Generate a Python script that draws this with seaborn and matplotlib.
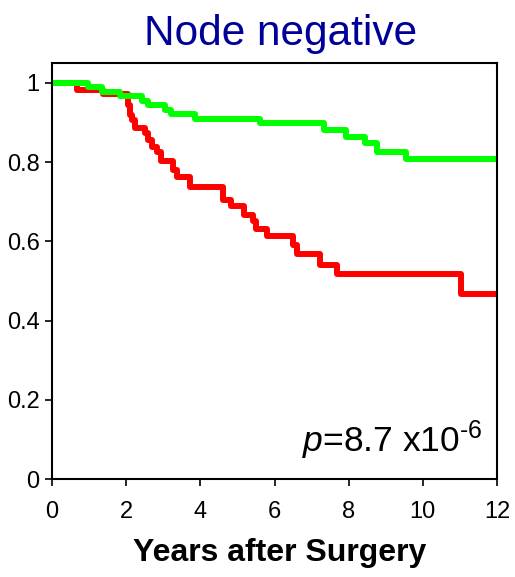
import matplotlib
matplotlib.use("Agg")
import matplotlib.pyplot as plt
import seaborn as sns
import pandas as pd

# Kaplan-Meier step data
green_times = [0, 0.97, 1.34, 1.83, 2.42, 2.59, 3.05, 3.22, 3.85, 5.6, 7.33, 7.94, 8.44, 8.77, 9.54]
green_surv = [1.0, 0.989, 0.976, 0.967, 0.955, 0.944, 0.932, 0.921, 0.908, 0.898, 0.881, 0.864, 0.848, 0.825, 0.807]

red_times = [0, 0.68, 1.38, 2.06, 2.10, 2.15, 2.24, 2.50, 2.60, 2.70, 2.84, 2.94, 3.27, 3.38, 3.72,
             4.62, 4.82, 5.17, 5.43, 5.50, 5.79, 6.50, 6.60, 7.22, 7.69, 11.02]
red_surv = [1.0, 0.982, 0.971, 0.945, 0.920, 0.907, 0.886, 0.873, 0.856, 0.839, 0.825, 0.803, 0.780, 0.763, 0.738,
            0.705, 0.688, 0.667, 0.650, 0.631, 0.614, 0.591, 0.568, 0.540, 0.518, 0.466]

max_followup = 12
x_ticks = [0, 2, 4, 6, 8, 10, 12]
y_ticks = [0, 0.2, 0.4, 0.6, 0.8, 1]
y_tick_labels = ["0", "0.2", "0.4", "0.6", "0.8", "1"]

title = "Node negative"
x_label = "Years after Surgery"
p_text = r"$p$=8.7 x10$^{\text{-6}}$"

sns.set_style("white")
plt.rcParams["font.family"] = ["Liberation Sans", "DejaVu Sans"]
plt.rcParams["mathtext.fontset"] = "custom"
plt.rcParams["mathtext.rm"] = "Liberation Sans"
plt.rcParams["mathtext.it"] = "Liberation Sans:italic"
plt.rcParams["text.color"] = "black"
plt.rcParams["axes.labelcolor"] = "black"
plt.rcParams["xtick.color"] = "black"
plt.rcParams["ytick.color"] = "black"

rows = []
for t, s in zip(green_times + [max_followup], green_surv + [green_surv[-1]]):
    rows.append({"time": t, "surv": s, "group": "green"})
for t, s in zip(red_times + [max_followup], red_surv + [red_surv[-1]]):
    rows.append({"time": t, "surv": s, "group": "red"})
df = pd.DataFrame(rows)

fig = plt.figure(figsize=(5.15, 5.77), dpi=100)
ax = fig.add_axes([52 / 515, 98 / 577, 445 / 515, 416 / 577])

sns.lineplot(data=df, x="time", y="surv", hue="group", hue_order=["red", "green"],
             palette={"green": "#00FF00", "red": "#FF0000"},
             drawstyle="steps-post", estimator=None, sort=False,
             linewidth=4.3, legend=False, ax=ax)

ax.set_xlim(0, 12)
ax.set_ylim(0, 1.05)
ax.set_xticks(x_ticks)
ax.set_xticklabels([str(v) for v in x_ticks])
ax.set_yticks(y_ticks)
ax.set_yticklabels(y_tick_labels)

for sp in ax.spines.values():
    sp.set_visible(True)
    sp.set_color("black")
    sp.set_linewidth(1.5)

ax.tick_params(axis="x", direction="out", length=5, width=1.2, colors="black",
               labelsize=17, pad=11, bottom=True)
ax.tick_params(axis="y", direction="out", length=5, width=1.2, colors="black",
               labelsize=17, pad=4, left=True)

ax.set_xlabel(x_label, fontsize=23, fontweight="bold", color="black")
ax.xaxis.set_label_coords(0.511, -0.143)
ax.set_ylabel("")
ax.set_title(title, fontsize=30.5, color="#000099", pad=13, x=0.513)

ax.text(11.6, 0.068, p_text, fontsize=25.5, ha="right", va="baseline", color="black")

fig.savefig("out.png", dpi=100)
